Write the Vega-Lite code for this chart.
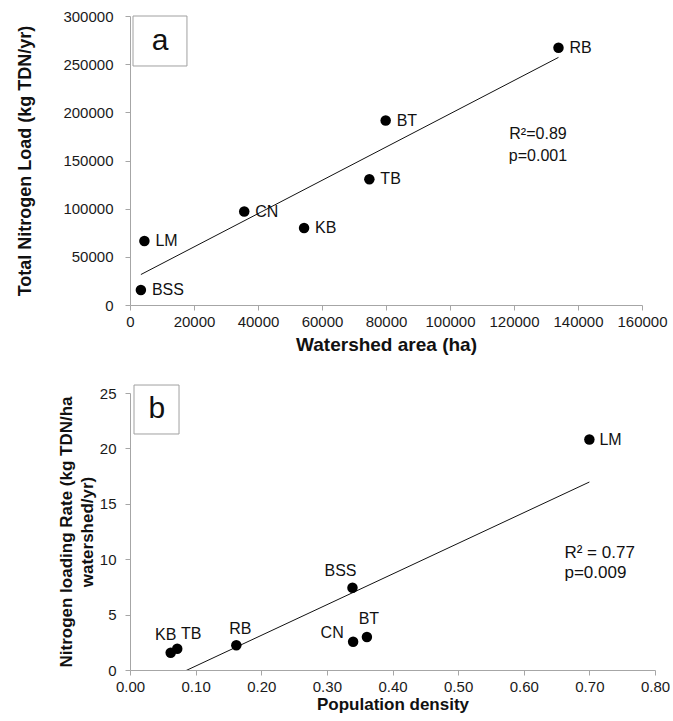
{
  "$schema": "https://vega.github.io/schema/vega-lite/v6.json",
  "background": "white",
  "padding": {"left": 16, "top": 9, "right": 0, "bottom": 6},
  "bounds": "flush",
  "spacing": 88,
  "datasets": {
    "watershed": [
      {"site": "BSS", "area": 3400, "load": 15500},
      {"site": "LM", "area": 4500, "load": 66500},
      {"site": "CN", "area": 35700, "load": 97000},
      {"site": "KB", "area": 54400, "load": 80000},
      {"site": "TB", "area": 74800, "load": 130500},
      {"site": "BT", "area": 79900, "load": 191500},
      {"site": "RB", "area": 133900, "load": 267000}
    ],
    "population": [
      {"site": "KB", "density": 0.062, "rate": 1.56},
      {"site": "TB", "density": 0.072, "rate": 1.92},
      {"site": "RB", "density": 0.162, "rate": 2.23},
      {"site": "BSS", "density": 0.339, "rate": 7.43},
      {"site": "CN", "density": 0.34, "rate": 2.55},
      {"site": "BT", "density": 0.361, "rate": 2.98},
      {"site": "LM", "density": 0.7, "rate": 20.8}
    ]
  },
  "config": {
    "view": {"stroke": null},
    "font": "Liberation Sans",
    "axis": {
      "grid": false,
      "domainColor": "#a6a6a6",
      "tickColor": "#a6a6a6",
      "tickSize": 5,
      "labelColor": "#1a1a1a",
      "labelFont": "Liberation Sans",
      "labelFontSize": 15,
      "titleFont": "Liberation Sans",
      "titleColor": "#111111",
      "titleFontWeight": "bold"
    },
    "text": {"font": "Liberation Sans", "color": "#111111", "fontWeight": "normal"}
  },
  "vconcat": [
    {
      "width": 512,
      "height": 289,
      "data": {"name": "watershed"},
      "encoding": {
        "x": {"field": "area", "type": "quantitative", "scale": {"domain": [0, 160000], "nice": false},
          "axis": {"title": "Watershed area (ha)", "values": [0, 20000, 40000, 60000, 80000, 100000, 120000, 140000, 160000], "format": "d", "labelPadding": 4, "titlePadding": 6, "titleFontSize": 19, "labelFlush": false, "labelOverlap": false}},
        "y": {"field": "load", "type": "quantitative", "scale": {"domain": [0, 300000], "nice": false},
          "axis": {"title": "Total Nitrogen Load (kg TDN/yr)", "values": [0, 50000, 100000, 150000, 200000, 250000, 300000], "format": "d", "labelPadding": 12, "titlePadding": 28, "titleFontSize": 18, "labelFlush": false, "labelOverlap": false}}
      },
      "layer": [
        {
          "transform": [{"regression": "load", "on": "area"}],
          "mark": {"type": "line", "color": "#111111", "strokeWidth": 1, "clip": true}
        },
        {"mark": {"type": "circle", "size": 110, "opacity": 1, "color": "#000000"}},
        {"mark": {"type": "text", "align": "left", "baseline": "middle", "dx": 11, "fontSize": 16, "fontWeight": "normal"}, "encoding": {"text": {"field": "site"}}},
        {
          "transform": [{"filter": {"field": "site", "equal": "RB"}}],
          "mark": {"type": "rect", "fill": "white", "stroke": "#a0a0a0", "strokeWidth": 1},
          "encoding": {"x": {"datum": 940}, "x2": {"datum": 17800}, "y": {"datum": 300000}, "y2": {"datum": 248100}}
        },
        {
          "transform": [{"filter": {"field": "site", "equal": "RB"}}],
          "mark": {"type": "text", "text": "a", "fontSize": 30, "fontWeight": "normal", "align": "center", "baseline": "middle"},
          "encoding": {"x": {"datum": 9375}, "y": {"datum": 274000}}
        },
        {
          "transform": [{"filter": {"field": "site", "equal": "RB"}}],
          "mark": {"type": "text", "text": ["R²=0.89", "p=0.001"], "fontSize": 16, "fontWeight": "normal", "lineHeight": 22, "align": "center", "baseline": "middle"},
          "encoding": {"x": {"datum": 127500}, "y": {"datum": 177500}}
        }
      ]
    },
    {
      "width": 525,
      "height": 277,
      "data": {"name": "population"},
      "encoding": {
        "x": {"field": "density", "type": "quantitative", "scale": {"domain": [0, 0.8], "nice": false},
          "axis": {"title": "Population density", "values": [0, 0.1, 0.2, 0.3, 0.4, 0.5, 0.6, 0.7, 0.8], "format": ".2f", "labelPadding": 4, "titlePadding": 2, "titleFontSize": 17, "labelFlush": false, "labelOverlap": false}},
        "y": {"field": "rate", "type": "quantitative", "scale": {"domain": [0, 25], "nice": false},
          "axis": {"title": ["Nitrogen loading Rate (kg TDN/ha", "watershed/yr)"], "values": [0, 5, 10, 15, 20, 25], "labelPadding": 9, "titlePadding": 3, "titleFontSize": 17, "titleLineHeight": 21, "labelFlush": false, "labelOverlap": false}}
      },
      "layer": [
        {
          "transform": [{"regression": "rate", "on": "density"}],
          "mark": {"type": "line", "color": "#111111", "strokeWidth": 1, "clip": true}
        },
        {"mark": {"type": "circle", "size": 110, "opacity": 1, "color": "#000000"}},
        {"transform": [{"filter": {"field": "site", "equal": "KB"}}], "mark": {"type": "text", "align": "center", "baseline": "middle", "dx": -5, "dy": -18, "fontSize": 16, "fontWeight": "normal"}, "encoding": {"text": {"field": "site"}}},
        {"transform": [{"filter": {"field": "site", "equal": "TB"}}], "mark": {"type": "text", "align": "center", "baseline": "middle", "dx": 14, "dy": -15, "fontSize": 16, "fontWeight": "normal"}, "encoding": {"text": {"field": "site"}}},
        {"transform": [{"filter": {"field": "site", "equal": "RB"}}], "mark": {"type": "text", "align": "center", "baseline": "middle", "dx": 4, "dy": -16, "fontSize": 16, "fontWeight": "normal"}, "encoding": {"text": {"field": "site"}}},
        {"transform": [{"filter": {"field": "site", "equal": "BSS"}}], "mark": {"type": "text", "align": "center", "baseline": "middle", "dx": -12, "dy": -17, "fontSize": 16, "fontWeight": "normal"}, "encoding": {"text": {"field": "site"}}},
        {"transform": [{"filter": {"field": "site", "equal": "CN"}}], "mark": {"type": "text", "align": "center", "baseline": "middle", "dx": -21, "dy": -9, "fontSize": 16, "fontWeight": "normal"}, "encoding": {"text": {"field": "site"}}},
        {"transform": [{"filter": {"field": "site", "equal": "BT"}}], "mark": {"type": "text", "align": "center", "baseline": "middle", "dx": 2, "dy": -18, "fontSize": 16, "fontWeight": "normal"}, "encoding": {"text": {"field": "site"}}},
        {"transform": [{"filter": {"field": "site", "equal": "LM"}}], "mark": {"type": "text", "align": "left", "baseline": "middle", "dx": 10, "dy": 0, "fontSize": 16, "fontWeight": "normal"}, "encoding": {"text": {"field": "site"}}},
        {
          "transform": [{"filter": {"field": "site", "equal": "LM"}}],
          "mark": {"type": "rect", "fill": "white", "stroke": "#a0a0a0", "strokeWidth": 1},
          "encoding": {"x": {"datum": 0.0061}, "x2": {"datum": 0.0747}, "y": {"datum": 25.72}, "y2": {"datum": 21.3}}
        },
        {
          "transform": [{"filter": {"field": "site", "equal": "LM"}}],
          "mark": {"type": "text", "text": "b", "fontSize": 30, "fontWeight": "normal", "align": "center", "baseline": "middle"},
          "encoding": {"x": {"datum": 0.041}, "y": {"datum": 23.55}}
        },
        {
          "transform": [{"filter": {"field": "site", "equal": "LM"}}],
          "mark": {"type": "text", "text": ["R² = 0.77", "p=0.009"], "fontSize": 17, "fontWeight": "normal", "lineHeight": 20, "align": "left", "baseline": "middle"},
          "encoding": {"x": {"datum": 0.662}, "y": {"datum": 10.59}}
        }
      ]
    }
  ]
}
